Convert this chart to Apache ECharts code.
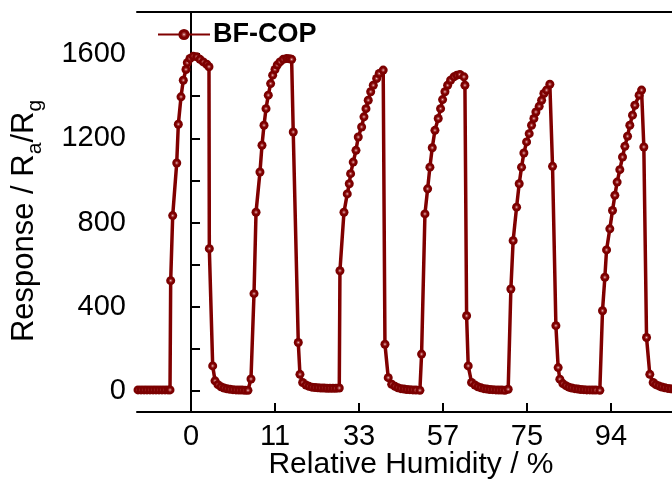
<!DOCTYPE html>
<html>
<head>
<meta charset="utf-8">
<script src="https://cdn.jsdelivr.net/npm/echarts@6/dist/echarts.min.js"></script>
<style>html,body{margin:0;padding:0;background:#fff}#c{width:672px;height:483px}</style>
</head>
<body>
<div id="c"></div>
<script>
// time axis (arbitrary s), tick positions and humidity tick labels
var tickTimes = [0, 100, 200, 300, 400, 500];
var humidityLabels = ['0', '11', '33', '57', '75', '94'];
var yLabelValues = [0, 400, 800, 1200, 1600];
var yTickValues = [0, 200, 400, 600, 800, 1000, 1200, 1400, 1600];

var time = [
-63.1,-59.5,-55.9,-52.4,-48.8,-45.2,-41.7,-38.1,-34.5,-30.9,-27.4,-25.0,
-24.2,-21.8,-17.0,-15.1,-11.9,-9.2,-6.0,-4.4,-1.2,2.7,6.8,10.7,14.6,18.7,21.4,
21.8,25.8,28.6,32.1,35.7,39.3,42.8,46.4,50.0,53.6,57.1,60.7,64.3,67.8,
71.4,75.0,77.4,82.1,84.5,86.9,89.3,92.0,94.8,97.2,100.0,102.7,105.9,109.8,113.9,117.2,119.8,
121.7,127.7,129.7,132.9,136.9,140.4,144.0,147.6,151.1,154.7,158.3,161.8,165.4,169.0,172.6,176.5,
177.3,182.1,186.0,188.4,190.0,193.1,196.4,199.1,203.1,205.9,208.3,211.0,213.9,217.0,221.0,224.1,228.8,
230.9,234.8,238.9,242.8,246.3,249.9,253.5,257.0,260.6,264.2,267.8,272.5,
274.5,278.5,281.7,284.4,287.2,290.4,294.3,297.1,299.5,302.3,305.5,309.0,313.0,316.5,320.1,324.9,326.1,
328.1,330.0,334.0,338.0,341.5,345.1,348.7,352.2,355.8,359.4,363.0,366.5,370.1,373.7,377.6,
380.8,383.5,387.6,390.7,393.5,396.3,399.5,402.6,405.4,408.2,410.6,414.5,417.4,420.1,423.3,427.2,
430.4,434.4,437.1,439.1,442.7,446.3,449.8,453.4,457.0,460.5,464.1,467.7,471.2,474.8,478.4,482.0,486.7,
489.9,492.7,494.7,498.6,501.8,504.6,507.3,510.5,513.7,516.5,519.7,522.4,525.6,528.4,533.5,536.4,
539.1,542.3,546.2,550.2,553.4,557.0,560.5,564.1,567.7,571.2,574.8
];
var response = [
5,5,5,5,5,5,5,5,5,5,5,5,
524,833,1083,1267,1397,1476,1527,1559,1579,1590,1587,1575,1563,1552,1540,
676,119,48,30,20,14,10,8,6,5,4,4,3,3,
57,462,849,1040,1167,1262,1341,1405,1460,1500,1527,1548,1563,1575,1579,1578,1575,
1230,230,79,40,28,22,18,16,15,14,14,13,13,13,13,14,
571,849,936,984,1032,1087,1143,1206,1254,1302,1341,1381,1421,1452,1484,1508,1524,
222,63,32,22,15,11,9,7,6,5,4,3,
175,841,960,1063,1155,1238,1294,1341,1384,1421,1452,1476,1492,1500,1503,1492,1452,
357,119,40,28,20,15,11,9,7,6,5,4,4,3,8,
484,714,873,984,1063,1130,1183,1222,1262,1294,1325,1352,1381,1413,1429,1457,
1067,310,111,56,35,25,18,14,11,9,7,6,5,5,4,4,3,
381,540,670,770,857,929,992,1051,1111,1162,1210,1262,1310,1357,1405,1429,
1159,254,79,40,30,24,19,15,12,10,9
];

var data = time.map(function (t, i) { return [t, response[i]]; });
var FONT = '"Liberation Sans", Arial, sans-serif';
var RED = '#800000';
var X_MIN = -64.3, X_MAX = 588.1;

var chart = echarts.init(document.getElementById('c'), null, {renderer: 'canvas'});
chart.setOption({
  animation: false,
  backgroundColor: '#fff',
  grid: {left: 137, top: 12, width: 548, height: 400, show: false, outerBoundsMode: 'none', containLabel: false},
  legend: {
    left: 157, top: 21, padding: 0, itemWidth: 52, itemHeight: 14, itemGap: 0,
    textStyle: {fontFamily: FONT, fontSize: 27, fontWeight: 'bold', color: '#000', padding: [0, 0, 0, -2]},
    data: ['BF-COP']
  },
  xAxis: [{
    type: 'value',
    min: X_MIN, max: X_MAX,
    name: 'Relative Humidity / %',
    nameLocation: 'middle', nameGap: 38, nameMoveOverlap: false,
    nameTextStyle: {fontFamily: FONT, fontSize: 30, color: '#000'},
    axisLine: {show: true, onZero: false, lineStyle: {color: '#000', width: 2}},
    axisTick: {show: true, inside: true, length: 9, lineStyle: {color: '#000', width: 2}, customValues: tickTimes},
    axisLabel: {
      fontFamily: FONT, fontSize: 29, color: '#000', margin: 10,
      customValues: tickTimes,
      formatter: function (v) { var i = tickTimes.indexOf(Math.round(v)); return i >= 0 ? humidityLabels[i] : ''; }
    },
    splitLine: {show: false}
  }, {
    type: 'value', position: 'top',
    min: X_MIN, max: X_MAX,
    axisLine: {show: true, onZero: false, lineStyle: {color: '#000', width: 2}},
    axisTick: {show: false}, axisLabel: {show: false}, splitLine: {show: false}
  }],
  yAxis: {
    type: 'value',
    min: -100, max: 1800,
    name: '{n|Response / R}{s|a}{n|/R}{s|g}',
    nameLocation: 'middle', nameGap: 97, nameMoveOverlap: false,
    nameTextStyle: {
      fontFamily: FONT, fontSize: 31, color: '#000', padding: [0, 18, 0, 0],
      rich: {
        n: {fontFamily: FONT, fontSize: 31, color: '#000', lineHeight: 36, verticalAlign: 'bottom'},
        s: {fontFamily: FONT, fontSize: 21, color: '#000', lineHeight: 36, verticalAlign: 'bottom', padding: [0, 0, -6, 0]}
      }
    },
    axisLine: {show: true, lineStyle: {color: '#000', width: 2}},
    axisTick: {show: true, inside: true, length: 9, lineStyle: {color: '#000', width: 2}, customValues: yTickValues},
    axisLabel: {fontFamily: FONT, fontSize: 29, color: '#000', margin: 11, customValues: yLabelValues,
      formatter: function (v) { return String(v); }},
    splitLine: {show: false}
  },
  series: [{
    name: 'BF-COP',
    type: 'line',
    data: data,
    symbol: 'circle',
    symbolSize: 9,
    lineStyle: {color: RED, width: 3.5},
    itemStyle: {
      color: {type: 'radial', x: 0.5, y: 0.5, r: 0.5, colorStops: [
        {offset: 0, color: '#f4d0d0'}, {offset: 0.22, color: '#b04848'}, {offset: 0.5, color: RED}, {offset: 1, color: '#780000'}]},
      borderWidth: 0
    },
    clip: true
  }]
});
</script>
</body>
</html>
